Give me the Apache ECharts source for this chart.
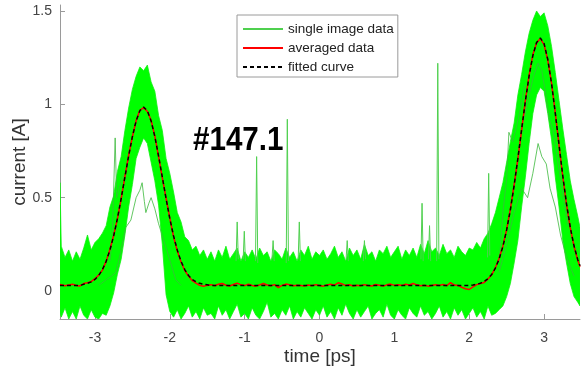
<!DOCTYPE html>
<html><head><meta charset="utf-8">
<script src="https://cdn.jsdelivr.net/npm/echarts@6/dist/echarts.min.js"></script>
<style>html,body{margin:0;padding:0;background:#fff}#c{width:585px;height:374px}</style>
</head><body><div id="c"></div>
<script>
// sample instants (ps)
const time = [-3.467,
-3.45,-3.40,-3.35,-3.30,-3.25,-3.20,-3.15,-3.10,-3.05,-3.00,
-2.95,-2.90,-2.85,-2.80,-2.75,-2.70,-2.65,-2.60,-2.55,-2.50,
-2.45,-2.40,-2.35,-2.30,-2.25,-2.20,-2.15,-2.10,-2.05,-2.00,
-1.95,-1.90,-1.85,-1.80,-1.75,-1.70,-1.65,-1.60,-1.55,-1.50,
-1.45,-1.40,-1.35,-1.30,-1.25,-1.20,-1.15,-1.10,-1.05,-1.00,
-0.95,-0.90,-0.85,-0.80,-0.75,-0.70,-0.65,-0.60,-0.55,-0.50,
-0.45,-0.40,-0.35,-0.30,-0.25,-0.20,-0.15,-0.10,-0.05,0.00,
0.05,0.10,0.15,0.20,0.25,0.30,0.35,0.40,0.45,0.50,
0.55,0.60,0.65,0.70,0.75,0.80,0.85,0.90,0.95,1.00,
1.05,1.10,1.15,1.20,1.25,1.30,1.35,1.40,1.45,1.50,
1.55,1.60,1.65,1.70,1.75,1.80,1.85,1.90,1.95,2.00,
2.05,2.10,2.15,2.20,2.25,2.30,2.35,2.40,2.45,2.50,
2.55,2.60,2.65,2.70,2.75,2.80,2.85,2.90,2.95,3.00,
3.05,3.10,3.15,3.20,3.25,3.30,3.35,3.40,3.45,3.48];

// fitted curve (A)
const fitted = [0.03,
0.03,0.03,0.03,0.03,0.03,0.03,0.036,0.041,0.049,0.062,
0.083,0.115,0.159,0.219,0.295,0.388,0.495,0.610,0.723,0.827,
0.911,0.966,0.985,0.966,0.911,0.827,0.723,0.610,0.495,0.388,
0.295,0.219,0.159,0.115,0.083,0.062,0.049,0.041,0.036,0.033,
0.03,0.03,0.03,0.03,0.03,0.03,0.03,0.03,0.03,0.03,
0.03,0.03,0.03,0.03,0.03,0.03,0.03,0.03,0.03,0.03,
0.03,0.03,0.03,0.03,0.03,0.03,0.03,0.03,0.03,0.03,
0.03,0.03,0.03,0.03,0.03,0.03,0.03,0.03,0.03,0.03,
0.03,0.03,0.03,0.03,0.03,0.03,0.03,0.03,0.03,0.03,
0.03,0.03,0.03,0.03,0.03,0.03,0.03,0.03,0.03,0.03,
0.03,0.03,0.03,0.03,0.03,0.03,0.03,0.03,0.03,0.03,
0.032,0.036,0.042,0.051,0.066,0.088,0.123,0.172,0.238,0.327,
0.435,0.565,0.711,0.865,1.016,1.152,1.261,1.331,1.355,1.326,
1.240,1.111,0.952,0.783,0.617,0.467,0.341,0.242,0.168,0.135];

// averaged data (A)
const averaged = [0.035,
0.034,0.028,0.032,0.036,0.030,0.027,0.040,0.044,0.050,0.066,
0.085,0.112,0.160,0.222,0.298,0.386,0.492,0.612,0.726,0.825,
0.913,0.968,0.982,0.962,0.915,0.830,0.720,0.606,0.498,0.390,
0.292,0.214,0.156,0.110,0.080,0.055,0.042,0.030,0.025,0.030,
0.034,0.028,0.036,0.040,0.031,0.027,0.035,0.042,0.033,0.029,
0.036,0.030,0.026,0.033,0.040,0.032,0.028,0.034,0.018,0.030,
0.037,0.033,0.028,0.031,0.029,0.027,0.032,0.028,0.034,0.030,
0.026,0.032,0.036,0.031,0.044,0.038,0.029,0.033,0.027,0.031,
0.028,0.034,0.030,0.027,0.035,0.031,0.026,0.033,0.037,0.030,
0.034,0.029,0.036,0.032,0.040,0.033,0.028,0.031,0.026,0.030,
0.034,0.030,0.035,0.028,0.045,0.032,0.030,0.020,0.012,0.008,
0.022,0.034,0.040,0.046,0.064,0.086,0.125,0.175,0.240,0.330,
0.438,0.568,0.708,0.862,1.020,1.155,1.265,1.328,1.352,1.320,
1.236,1.114,0.955,0.780,0.612,0.462,0.338,0.240,0.165,0.130];

// single image data: upper and lower edge of the bundle of traces (A)
const bandUpper = [0.58,
0.24,0.18,0.22,0.16,0.21,0.17,0.23,0.30,0.22,0.26,
0.28,0.31,0.35,0.45,0.51,0.64,0.72,0.86,0.98,1.08,
1.15,1.20,1.18,1.21,1.12,1.07,0.94,0.86,0.71,0.63,
0.53,0.42,0.37,0.29,0.27,0.22,0.24,0.19,0.22,0.17,
0.21,0.16,0.22,0.18,0.24,0.17,0.20,0.23,0.16,0.21,
0.18,0.22,0.17,0.23,0.19,0.21,0.16,0.22,0.20,0.17,
0.23,0.18,0.21,0.16,0.22,0.19,0.24,0.17,0.21,0.19,
0.22,0.17,0.20,0.24,0.18,0.21,0.16,0.23,0.19,0.22,
0.17,0.25,0.19,0.21,0.16,0.22,0.20,0.24,0.18,0.21,
0.24,0.17,0.22,0.19,0.23,0.18,0.25,0.20,0.27,0.21,
0.23,0.19,0.25,0.20,0.22,0.18,0.24,0.21,0.19,0.23,
0.22,0.26,0.23,0.28,0.31,0.36,0.42,0.50,0.58,0.69,
0.80,0.90,1.05,1.16,1.28,1.38,1.45,1.50,1.47,1.49,
1.42,1.31,1.17,1.02,0.87,0.73,0.59,0.49,0.40,0.34];

const bandLower = [-0.12,
-0.14,-0.09,-0.15,-0.11,-0.15,-0.08,-0.13,-0.15,-0.10,-0.14,
-0.15,-0.12,-0.13,-0.08,-0.01,0.09,0.17,0.30,0.45,0.57,
0.71,0.77,0.82,0.79,0.69,0.59,0.46,0.25,-0.02,-0.11,
-0.14,-0.10,-0.15,-0.12,-0.08,-0.14,-0.11,-0.15,-0.09,-0.13,
-0.12,-0.15,-0.08,-0.13,-0.10,-0.15,-0.11,-0.07,-0.14,-0.12,
-0.15,-0.09,-0.13,-0.15,-0.11,-0.06,-0.14,-0.12,-0.15,-0.10,
-0.13,-0.08,-0.15,-0.11,-0.14,-0.09,-0.12,-0.15,-0.10,-0.13,
-0.08,-0.14,-0.11,-0.15,-0.09,-0.13,-0.07,-0.12,-0.15,-0.10,
-0.14,-0.11,-0.08,-0.15,-0.12,-0.10,-0.14,-0.07,-0.13,-0.15,
-0.10,-0.13,-0.15,-0.09,-0.12,-0.14,-0.08,-0.13,-0.11,-0.15,
-0.12,-0.08,-0.14,-0.11,-0.15,-0.09,-0.13,-0.10,-0.15,-0.12,
-0.09,-0.14,-0.11,-0.15,-0.08,-0.13,-0.12,-0.10,-0.08,-0.03,
0.04,0.15,0.27,0.45,0.61,0.79,0.95,1.05,1.09,1.07,
0.95,0.81,0.61,0.45,0.27,0.15,0.04,-0.03,-0.06,-0.08];

// single image traces standing out of the bundle: [time ps, current A]
const outlierTraces = [
  [[-2.95,0.03],[-2.85,0.06],[-2.78,0.08],[-2.72,0.10],[-2.65,0.22],[-2.59,0.34],[-2.52,0.38],[-2.45,0.50],[-2.40,0.54],[-2.37,0.58],[-2.34,0.48],[-2.32,0.42],[-2.28,0.47],[-2.25,0.50],[-2.20,0.44],[-2.15,0.36],[-2.08,0.27],[-2.01,0.18],[-1.92,0.06],[-1.85,0.03]],
  [[-2.80,0.16],[-2.77,0.27],[-2.73,0.82],[-2.71,0.50],[-2.67,0.56],[-2.62,0.62]],
  [[2.40,0.15],[2.45,0.42],[2.50,0.60],[2.53,0.85],[2.58,0.80],[2.62,0.86],[2.68,0.97],[2.74,1.10]],
  [[2.40,0.10],[2.50,0.25],[2.60,0.42],[2.70,0.55],[2.78,0.50],[2.85,0.63],[2.92,0.79],[2.97,0.72],[3.03,0.68],[3.08,0.55],[3.15,0.45],[3.22,0.30],[3.30,0.18],[3.40,0.08]],
  [[2.55,0.45],[2.65,0.70],[2.72,0.90],[2.80,1.05],[2.86,1.15],[2.92,1.22],[2.97,1.18],[3.02,1.06],[3.07,0.92],[3.12,0.86],[3.18,0.70],[3.25,0.52],[3.32,0.35]]
];
const spikeTraces = [
  [[-1.115,0.16],[-1.10,0.37],[-1.085,0.17]],
  [[-1.02,0.17],[-1.005,0.32],[-0.99,0.16]],
  [[-0.855,0.16],[-0.84,0.72],[-0.825,0.15]],
  [[-0.635,0.17],[-0.62,0.27],[-0.605,0.16]],
  [[-0.445,0.15],[-0.43,0.92],[-0.415,0.16]],
  [[-0.285,0.17],[-0.27,0.37],[-0.255,0.16]],
  [[0.355,0.17],[0.37,0.27],[0.385,0.16]],
  [[0.585,0.16],[0.60,0.27],[0.615,0.17]],
  [[1.355,0.17],[1.37,0.47],[1.385,0.16]],
  [[1.455,0.17],[1.47,0.35],[1.485,0.16]],
  [[1.565,0.16],[1.58,1.22],[1.595,0.17]],
  [[2.245,0.18],[2.26,0.63],[2.275,0.19]]
];

const xTicks = [-3,-2,-1,0,1,2,3];
const yTicks = [0,0.5,1,1.5];
const legendNames = ['single image data','averaged data','fitted curve'];
const annotation = '#147.1';

const FONT = 'Liberation Sans';
const chart = echarts.init(document.getElementById('c'), null, {renderer:'canvas'});

const series = [];
spikeTraces.forEach(tr => series.push({
  type:'line', name:legendNames[0], data:tr, symbol:'none', z:2, silent:true,
  color:'#4fd04f', lineStyle:{color:'#4fd04f', width:1}
}));
outlierTraces.forEach(tr => series.push({
  type:'line', name:legendNames[0], data:tr, symbol:'none', z:2, silent:true,
  color:'#4fd04f', lineStyle:{color:'rgba(60,185,60,0.8)', width:1}
}));
series.push({
  type:'custom', name:'band', z:1, silent:true, clip:true,
  data: time.map((t,i)=>[t, bandLower[i], bandUpper[i]]),
  encode:{x:0, y:[1,2]},
  renderItem: function(params, api){
    if (params.dataIndex !== 0) return null;
    const pts = [];
    for (let i=0;i<time.length;i++) pts.push(api.coord([time[i], bandUpper[i]]));
    for (let i=time.length-1;i>=0;i--) pts.push(api.coord([time[i], bandLower[i]]));
    return {type:'polygon', shape:{points:pts}, style:{fill:'#00ff00', stroke:'#10f010', lineWidth:0.8}};
  }
});
series.push({
  type:'line', name:legendNames[1], data: time.map((t,i)=>[t, averaged[i]]),
  symbol:'none', z:3, silent:true, color:'#ff0000', lineStyle:{color:'#ff0000', width:1.5}
});
series.push({
  type:'line', name:legendNames[2], data: time.map((t,i)=>[t, fitted[i]]),
  symbol:'none', z:4, silent:true, color:'#000000', lineStyle:{color:'#000000', width:1.5, type:[4,3]}
});

const axisCol = '#9a9a9a';
chart.setOption({
  animation:false,
  textStyle:{fontFamily:FONT},
  grid:{left:60, right:5, top:5, bottom:55, containLabel:false, outerBoundsMode:'none'},
  xAxis:{
    type:'value', min:-3.467, max:3.48,
    name:'time [ps]', nameLocation:'middle', nameGap:28, nameMoveOverlap:false,
    nameTextStyle:{fontSize:19, color:'#333', fontFamily:FONT},
    axisLine:{show:true, onZero:false, lineStyle:{color:axisCol, width:1}},
    axisTick:{show:true, inside:true, length:5, customValues:xTicks, lineStyle:{color:axisCol}},
    axisLabel:{customValues:xTicks, fontSize:14, color:'#444', margin:12, fontFamily:FONT},
    splitLine:{show:false}
  },
  yAxis:{
    type:'value', min:-0.15, max:1.532,
    name:'current [A]', nameLocation:'middle', nameGap:31, nameMoveOverlap:false,
    nameTextStyle:{fontSize:19, color:'#333', fontFamily:FONT},
    axisLine:{show:true, onZero:false, lineStyle:{color:axisCol, width:1}},
    axisTick:{show:true, inside:true, length:5, customValues:yTicks, lineStyle:{color:axisCol}},
    axisLabel:{customValues:yTicks, fontSize:14, color:'#444', margin:8, fontFamily:FONT},
    splitLine:{show:false}
  },
  legend:{
    data:legendNames, orient:'vertical', left:237, top:15,
    itemWidth:40, itemHeight:14, itemGap:5, padding:[7,4,3,5],
    backgroundColor:'#ffffff', borderColor:'#9a9a9a', borderWidth:1, borderRadius:0,
    selectedMode:false,
    itemStyle:{opacity:0},
    textStyle:{fontSize:13.5, color:'#222', fontFamily:FONT}
  },
  graphic:[{
    type:'text', x:193, y:141, scaleX:0.87, z:10,
    style:{text:annotation, fontSize:34, fontWeight:'bold', fontFamily:FONT, fill:'#000', verticalAlign:'middle', align:'left'}
  }],
  series: series
});
</script></body></html>
